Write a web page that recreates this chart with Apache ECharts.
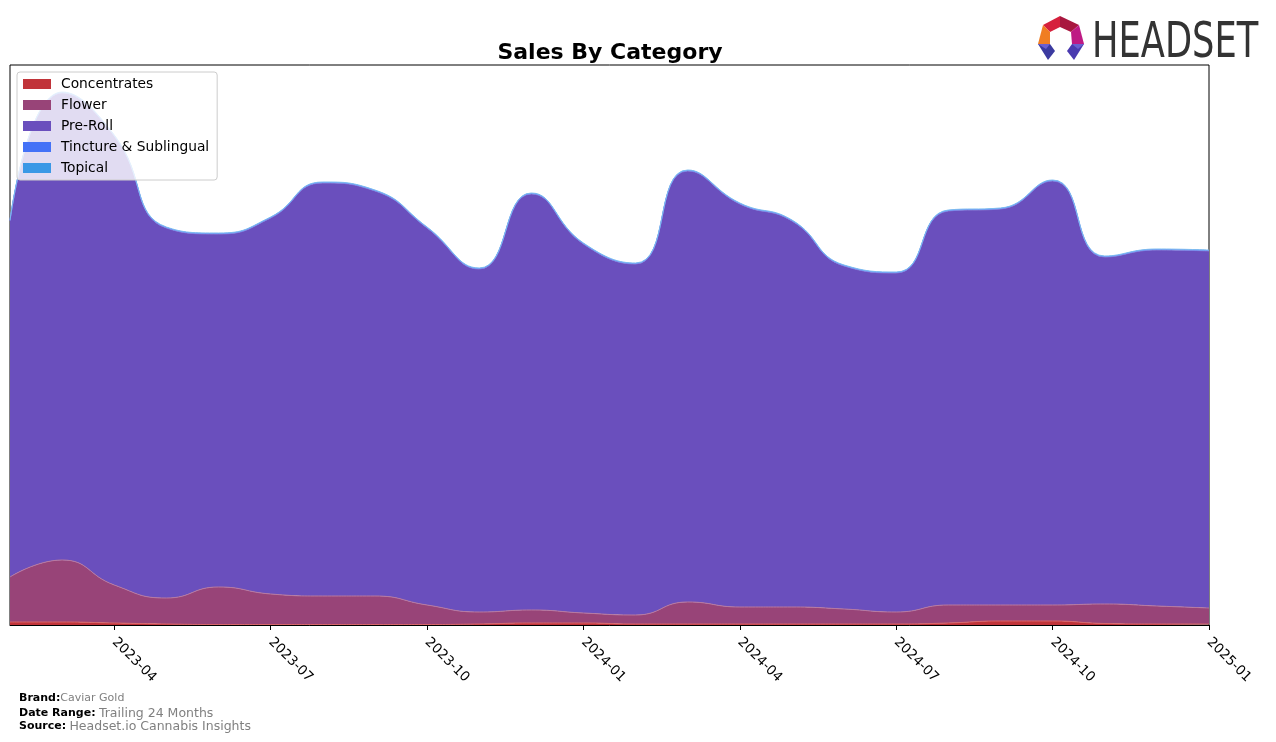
<!DOCTYPE html>
<html>
<head>
<meta charset="utf-8">
<script src="https://cdn.jsdelivr.net/npm/echarts@6/dist/echarts.min.js"></script>
<style>
  html, body { margin: 0; padding: 0; background: #fff; }
  #chart { width: 1276px; height: 742px; }
</style>
</head>
<body>
<div id="chart"></div>
<script>
const months = ['2023-02','2023-03','2023-04','2023-05','2023-06','2023-07','2023-08','2023-09','2023-10','2023-11','2023-12','2024-01',
                '2024-02','2024-03','2024-04','2024-05','2024-06','2024-07','2024-08','2024-09','2024-10','2024-11','2024-12','2025-01'];
const concentrates = [3, 3, 2, 1, 0.5, 0.5, 0.5, 0.5, 0.5, 1, 2, 2, 1, 1, 1, 1, 1, 1, 2, 4, 4, 1.5, 1, 1];
const flower = [45, 62, 38, 26, 37.5, 30.5, 28.5, 28.5, 19.5, 12, 13, 10, 9, 22, 17, 17, 15, 12, 18, 16, 16, 19.5, 18, 16];
const preRoll = [356, 467, 449, 370, 353, 376, 413, 405, 377, 343, 416, 369, 351, 431, 403, 386, 343, 339, 394, 396, 424, 347, 356, 357];
const tincture = [0.4, 0.4, 0.4, 0.4, 0.4, 0.4, 0.4, 0.4, 0.4, 0.4, 0.4, 0.4, 0.4, 0.4, 0.4, 0.4, 0.4, 0.4, 0.4, 0.4, 0.4, 0.4, 0.4, 0.4];
const topical = [0.6, 0.6, 0.6, 0.6, 0.6, 0.6, 0.6, 0.6, 0.6, 0.6, 0.6, 0.6, 0.6, 0.6, 0.6, 0.6, 0.6, 0.6, 0.6, 0.6, 0.6, 0.6, 0.6, 0.6];
const tickMonths = ['01', '04', '07', '10'];
const yMax = 560;

const chart = echarts.init(document.getElementById('chart'), null, { renderer: 'canvas' });

function areaSeries(name, data, color, lineColor) {
  return {
    name: name,
    type: 'line',
    stack: 'total',
    data: data,
    smooth: 0.5,
    symbol: 'none',
    itemStyle: { color: color },
    lineStyle: { width: 1, color: lineColor },
    areaStyle: { color: color, opacity: 1 },
    emphasis: { disabled: true }
  };
}

const showTick = (idx, val) => tickMonths.indexOf(String(val).slice(5)) >= 0;

const option = {
  animation: false,
  backgroundColor: '#ffffff',
  textStyle: { fontFamily: 'DejaVu Sans' },
  legend: {
    orient: 'vertical',
    left: 17,
    top: 72,
    padding: [5, 8, 5, 6],
    itemWidth: 28,
    itemHeight: 10,
    itemGap: 7,
    icon: 'rect',
    backgroundColor: 'rgba(255,255,255,0.8)',
    borderColor: '#cccccc',
    borderWidth: 1,
    borderRadius: 3,
    textStyle: { fontFamily: 'DejaVu Sans', fontSize: 13.8, color: '#000', lineHeight: 14, padding: [0, 0, 0, 5] },
    data: ['Concentrates', 'Flower', 'Pre-Roll', 'Tincture & Sublingual', 'Topical']
  },
  grid: {
    left: 10, right: 67, top: 65, bottom: 117,
    show: true, borderColor: '#000', borderWidth: 1, backgroundColor: 'transparent'
  },
  xAxis: {
    type: 'category',
    data: months,
    boundaryGap: false,
    axisLine: { show: true, lineStyle: { color: '#000', width: 1 } },
    axisTick: { show: true, length: 5, interval: showTick, lineStyle: { color: '#000' } },
    axisLabel: {
      interval: showTick,
      rotate: -45,
      margin: 15,
      fontSize: 13.5,
      color: '#000',
      fontFamily: 'DejaVu Sans'
    },
    splitLine: { show: false }
  },
  yAxis: {
    type: 'value',
    min: 0,
    max: yMax,
    show: false,
    splitLine: { show: false }
  },
  series: [
    areaSeries('Concentrates', concentrates, '#c1343a', '#d9676b'),
    areaSeries('Flower', flower, '#984478', '#b9799f'),
    areaSeries('Pre-Roll', preRoll, '#6a4fbd', '#8c78d0'),
    areaSeries('Tincture & Sublingual', tincture, '#4472f7', '#6f93f8'),
    areaSeries('Topical', topical, '#3a98e6', '#7dbcf0')
  ],
  graphic: [
    {
      type: 'text', x: 610, y: 53,
      style: { text: 'Sales By Category', fontFamily: 'DejaVu Sans', fontWeight: 'bold', fontSize: 22,
               fill: '#000', textAlign: 'center', textVerticalAlign: 'middle' }
    },
    // footer
    {
      type: 'text', left: 19, top: 693,
      style: {
        text: '{b|Brand:}{v|Caviar Gold}',
        rich: {
          b: { fontFamily: 'DejaVu Sans', fontWeight: 'bold', fontSize: 11, fill: '#000' },
          v: { fontFamily: 'DejaVu Sans', fontSize: 11, fill: '#808080' }
        }
      }
    },
    {
      type: 'text', left: 19, top: 707,
      style: {
        text: '{b|Date Range:} {v|Trailing 24 Months}',
        rich: {
          b: { fontFamily: 'DejaVu Sans', fontWeight: 'bold', fontSize: 11, fill: '#000' },
          v: { fontFamily: 'DejaVu Sans', fontSize: 12.5, fill: '#808080' }
        }
      }
    },
    {
      type: 'text', left: 19, top: 720,
      style: {
        text: '{b|Source:} {v|Headset.io Cannabis Insights}',
        rich: {
          b: { fontFamily: 'DejaVu Sans', fontWeight: 'bold', fontSize: 11, fill: '#000' },
          v: { fontFamily: 'DejaVu Sans', fontSize: 12.5, fill: '#808080' }
        }
      }
    },
    // logo icon
    { type: 'polygon', shape: { points: [[1043,25],[1060,16],[1060,27],[1050,32]] }, style: { fill: '#d6203c' } },
    { type: 'polygon', shape: { points: [[1060,16],[1079,25],[1071,32],[1060,27]] }, style: { fill: '#a8173f' } },
    { type: 'polygon', shape: { points: [[1043,25],[1050,32],[1050,44],[1038,44]] }, style: { fill: '#f07d22' } },
    { type: 'polygon', shape: { points: [[1079,25],[1084,44],[1072,44],[1071,32]] }, style: { fill: '#be1a84' } },
    { type: 'polygon', shape: { points: [[1038,44],[1050,44],[1055,51],[1048,60]] }, style: { fill: '#3b3aa0' } },
    { type: 'polygon', shape: { points: [[1072,44],[1084,44],[1074,60],[1067,51]] }, style: { fill: '#4a3ab0' } },
    { type: 'polygon', shape: { points: [[1038,44],[1050,44],[1046,49]] }, style: { fill: '#6a5fd0' } },
    { type: 'polygon', shape: { points: [[1072,44],[1084,44],[1078,49]] }, style: { fill: '#6a5fd0' } },
    {
      type: 'text', x: 1092, y: 20, scaleX: 0.72,
      style: { text: 'HEADSET', fontFamily: 'DejaVu Sans', fontSize: 49, fill: '#333333', textVerticalAlign: 'top' }
    }
  ]
};

chart.setOption(option);
</script>
</body>
</html>
